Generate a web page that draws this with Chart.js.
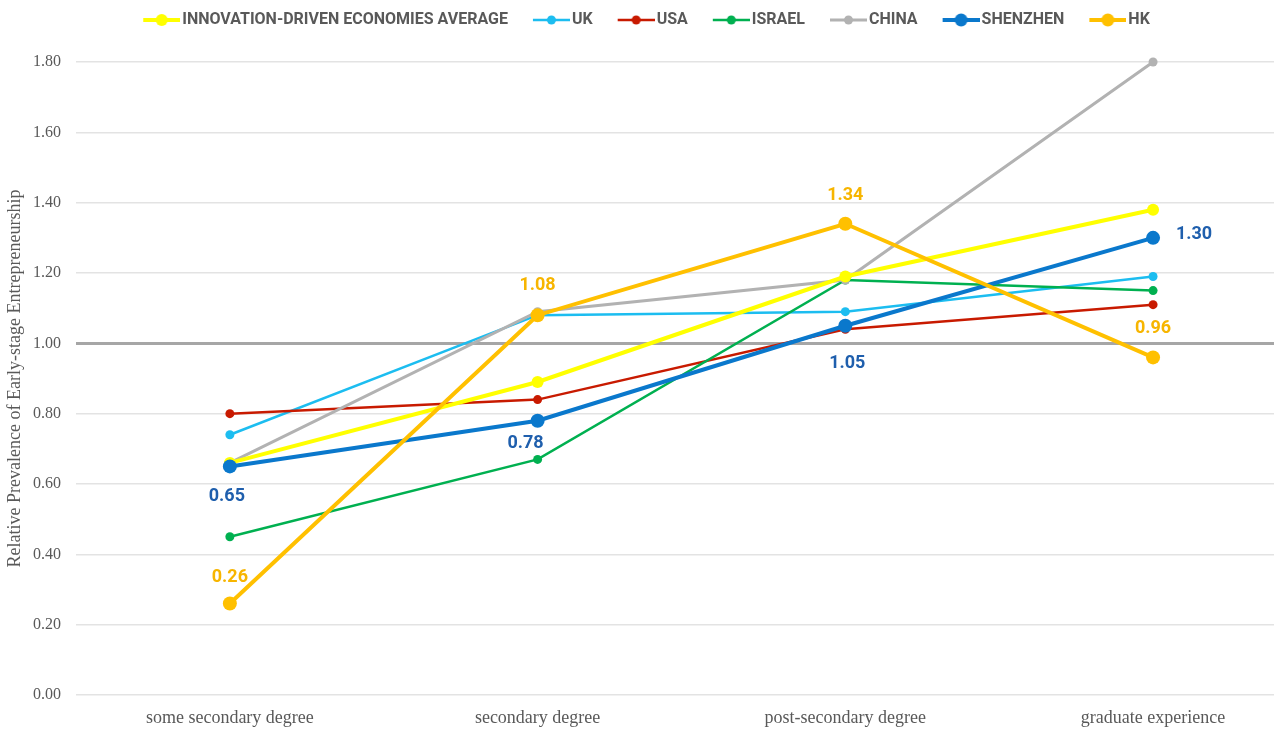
<!DOCTYPE html>
<html>
<head>
<meta charset="utf-8">
<script src="https://cdn.jsdelivr.net/npm/chart.js@4.4.1/dist/chart.umd.min.js"></script>
<style>
  html, body { margin: 0; padding: 0; background: #fff; overflow: hidden; }
  #wrap { position: absolute; left: 0; top: 0; width: 1274px; height: 729px; }
</style>
</head>
<body>
<div id="wrap"><canvas id="chart"></canvas></div>
<script>
// categories along x
const categories = ['some secondary degree', 'secondary degree', 'post-secondary degree', 'graduate experience'];

// series values
const innovationAvg = [0.66, 0.89, 1.19, 1.38];
const uk = [0.74, 1.08, 1.09, 1.19];
const usa = [0.80, 0.84, 1.04, 1.11];
const israel = [0.45, 0.67, 1.18, 1.15];
const china = [0.66, 1.09, 1.18, 1.80];
const shenzhen = [0.65, 0.78, 1.05, 1.30];
const hk = [0.26, 1.08, 1.34, 0.96];

const yTicks = [0, 0.2, 0.4, 0.6, 0.8, 1.0, 1.2, 1.4, 1.6, 1.8];

const boldSans = 'Roboto, "DejaVu Sans", sans-serif';
const serif = '"Liberation Serif", "DejaVu Serif", serif';

const LEGEND_FONT = 16;
const LEGEND_BOX = 46;

// line+dot swatch for the legend, drawn in the right part of the box
function swatch(color, lw, r) {
    const half = LEGEND_FONT / 2;
    const w = 2 * (LEGEND_BOX + half - 2 - LEGEND_BOX / 2);
    const c = document.createElement('canvas');
    c.width = w;
    c.height = 16;
    const g = c.getContext('2d');
    const x1 = w - 37, x2 = w;
    g.strokeStyle = color;
    g.lineWidth = lw;
    g.beginPath();
    g.moveTo(x1, 8);
    g.lineTo(x2, 8);
    g.stroke();
    g.fillStyle = color;
    g.beginPath();
    g.arc((x1 + x2) / 2, 8, r, 0, Math.PI * 2);
    g.fill();
    return c;
}

function series(label, data, color, width, radius, order, labels) {
    return {
        label: label,
        data: data.map((v, i) => ({x: i, y: v})),
        borderColor: color,
        backgroundColor: color,
        borderWidth: width,
        pointRadius: radius,
        pointHoverRadius: radius,
        pointBorderWidth: 0,
        tension: 0,
        clip: false,
        order: order,
        swatch: swatch(color, width, Math.min(radius, 6.5)),
        valueLabels: labels
    };
}

// value labels next to some points (offsets are style only)
const valueLabelPlugin = {
    id: 'valueLabels',
    afterDatasetsDraw(chart) {
        const ctx = chart.ctx;
        chart.data.datasets.forEach((ds, di) => {
            if (!ds.valueLabels) return;
            const meta = chart.getDatasetMeta(di);
            ctx.save();
            ctx.font = 'bold 18px ' + boldSans;
            ctx.fillStyle = ds.valueLabels.color;
            ctx.textAlign = 'center';
            ctx.textBaseline = 'middle';
            meta.data.forEach((pt, i) => {
                const off = ds.valueLabels.offsets[i];
                ctx.fillText(ds.data[i].y.toFixed(2), pt.x + off[0], pt.y + off[1]);
            });
            ctx.restore();
        });
    }
};

// extra room between the legend and the plot
const legendSpacer = {
    id: 'legendSpacer',
    beforeInit(chart) {
        const fit = chart.legend.fit;
        chart.legend.fit = function () {
            fit.call(this);
            this.height += 24;
        };
    }
};

const datasets = [
    series('INNOVATION-DRIVEN ECONOMIES AVERAGE', innovationAvg, '#ffff00', 4, 6, 3),
    series('UK', uk, '#1cbdf0', 2.5, 4.5, 7),
    series('USA', usa, '#c81a00', 2.5, 4.5, 6),
    series('ISRAEL', israel, '#00b050', 2.5, 4.5, 5),
    series('CHINA', china, '#b2b2b2', 3, 4.5, 4),
    series('SHENZHEN', shenzhen, '#0a78cc', 4, 7, 1,
        {color: '#1f5fad', offsets: [[-3, 30], [-12, 23], [2, 38], [41, -3]]}),
    series('HK', hk, '#ffc000', 4, 7, 0,
        {color: '#f7b500', offsets: [[0, -26], [0, -30], [0, -28], [0, -29]]})
];

const ctx = document.getElementById('chart').getContext('2d');
const chart = new Chart(ctx, {
    type: 'line',
    data: {datasets: datasets},
    plugins: [valueLabelPlugin, legendSpacer],
    options: {
        responsive: true,
        maintainAspectRatio: false,
        animation: false,
        layout: {
            autoPadding: false,
            padding: {left: 4, right: 0, top: 2, bottom: 2}
        },
        plugins: {
            tooltip: {enabled: false},
            legend: {
                position: 'top',
                labels: {
                    usePointStyle: true,
                    pointStyleWidth: LEGEND_BOX,
                    padding: 10,
                    color: '#595959',
                    font: {family: boldSans, size: LEGEND_FONT, weight: 'bold'},
                    sort: (a, b) => a.datasetIndex - b.datasetIndex,
                    generateLabels(chart) {
                        const items = Chart.defaults.plugins.legend.labels.generateLabels(chart);
                        items.forEach(it => {
                            it.pointStyle = chart.data.datasets[it.datasetIndex].swatch;
                        });
                        return items;
                    }
                }
            }
        },
        scales: {
            x: {
                type: 'linear',
                min: -0.5,
                max: 3.393,
                grid: {display: false},
                border: {display: false},
                afterBuildTicks(scale) {
                    scale.ticks = categories.map((c, i) => ({value: i}));
                },
                afterFit(scale) {
                    scale.height = 32;
                    scale.paddingLeft = 0;
                    scale.paddingRight = 0;
                },
                ticks: {
                    autoSkip: false,
                    maxRotation: 0,
                    padding: 4,
                    color: '#595959',
                    font: {family: serif, size: 18},
                    callback: (v) => categories[v]
                }
            },
            y: {
                min: 0,
                max: 1.8,
                afterBuildTicks(scale) {
                    scale.ticks = yTicks.map(v => ({value: v}));
                },
                afterFit(scale) {
                    scale.width = 72;
                },
                grid: {
                    drawTicks: false,
                    color: (c) => Math.abs(c.tick.value - 1) < 1e-6 ? '#a6a6a6' : '#e3e3e3',
                    lineWidth: (c) => Math.abs(c.tick.value - 1) < 1e-6 ? 3 : 1.5
                },
                border: {display: false},
                title: {
                    display: true,
                    text: 'Relative Prevalence of Early-stage Entrepreneurship',
                    color: '#595959',
                    font: {family: serif, size: 18},
                    padding: {top: 0, bottom: 4}
                },
                ticks: {
                    color: '#595959',
                    padding: 15,
                    font: {family: serif, size: 16},
                    callback: (v) => v.toFixed(2)
                }
            }
        }
    }
});
</script>
</body>
</html>
